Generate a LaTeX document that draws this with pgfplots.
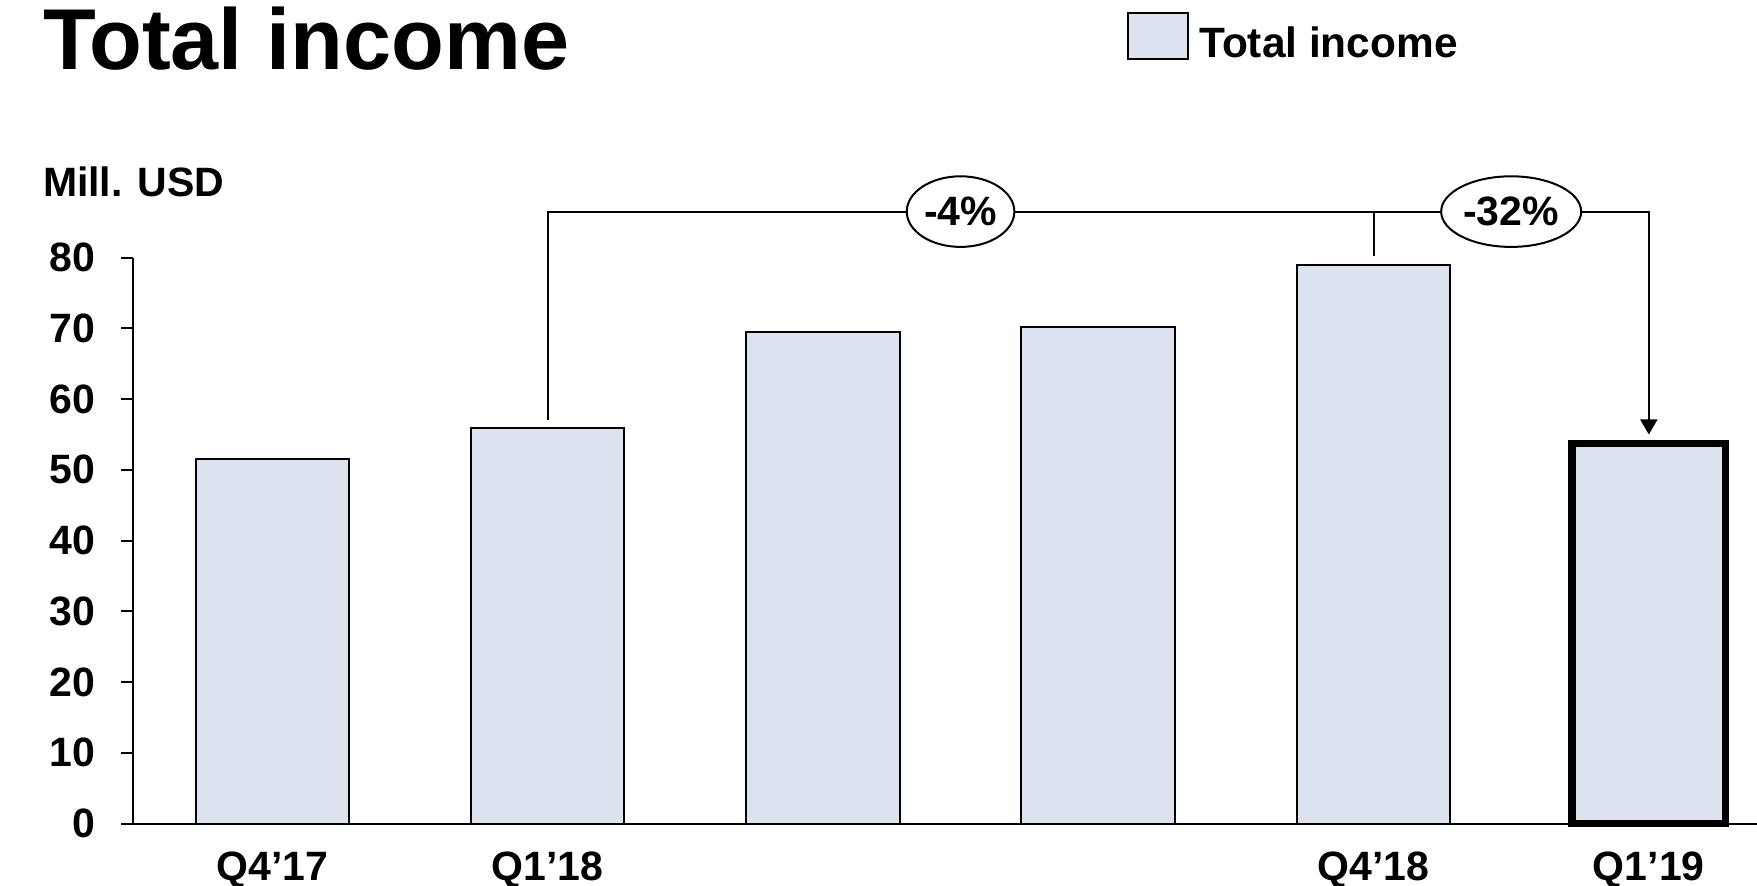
\documentclass[border=0pt]{standalone}
\usepackage{fontspec}
\setmainfont{Liberation Sans}
\usepackage{pgfplots}
\pgfplotsset{compat=1.18}
\usetikzlibrary{arrows.meta,shapes.geometric}
\definecolor{barfill}{RGB}{221,227,238}
\newcommand{\lbl}{\bfseries\fontsize{20.5}{24}\selectfont}
\begin{document}
\begin{tikzpicture}
\useasboundingbox (-66.5pt,-31.2pt) rectangle (812pt,411.8pt);
\begin{axis}[
  at={(0pt,0pt)}, anchor=south west,
  scale only axis, width=812pt, height=283pt,
  xmin=-0.506, xmax=5.393, ymin=0, ymax=80,
  axis lines=left, axis line style={-, line width=1pt},
  ybar, bar width=76.75pt,
  xtick={0,...,5}, xticklabels={Q4’17,Q1’18,,,Q4’18,Q1’19},
  ytick={0,10,...,80},
  tick align=outside, major tick length=6pt,
  xtick style={draw=none}, ytick style={line width=1pt, black},
  ticklabel style={font=\lbl},
  /pgf/number format/assume math mode=true,
  yticklabel style={anchor=east, inner sep=0pt, xshift=-12.5pt},
  xticklabel style={anchor=base, inner sep=0pt, yshift=-22.5pt},
  clip=false,
  legend style={at={(rel axis cs:0.612,1.3881)}, anchor=west, draw=none, fill=none, inner sep=0pt, font=\bfseries\fontsize{21.2}{25}\selectfont},
  legend image code/.code={\draw[fill=barfill, line width=1pt] (0pt,-7.55pt) rectangle (30pt,15.45pt); \path (33pt,0pt);},
]
\addplot[fill=barfill, draw=black, line width=1pt, bar shift=0pt]
  coordinates {(0,51.5) (1,55.9) (2,69.5) (3,70.2) (4,78.9)};
\addlegendentry{Total income}
\addplot[fill=barfill, draw=black, line width=3.65pt, bar shift=0pt, forget plot]
  coordinates {(5,53.7)};
\draw[line width=1pt, -{Triangle[width=8.5pt,length=7.5pt]}] (axis cs:1,57) |- (axis cs:5,86.5) -- (axis cs:5,55.0);
\draw[line width=1pt] (axis cs:4,86.5) -- (axis cs:4,80.2);
\node[ellipse, draw, line width=1pt, fill=white, minimum width=53.8pt, minimum height=35.3pt, inner sep=0pt, font=\lbl] at (axis cs:2.5,86.5) {-4\%};
\node[ellipse, draw, line width=1pt, fill=white, minimum width=70pt, minimum height=35.3pt, inner sep=0pt, font=\lbl] at (axis cs:4.5,86.5) {-32\%};
\end{axis}
\node[anchor=base west, inner sep=0pt, font=\bfseries\fontsize{43.2}{50}\selectfont] at (-45.2pt,377pt) {Total income};
\node[anchor=base west, inner sep=0pt, font=\lbl] at (-45.2pt,313.3pt) {Mill. USD};
\end{tikzpicture}
\end{document}
